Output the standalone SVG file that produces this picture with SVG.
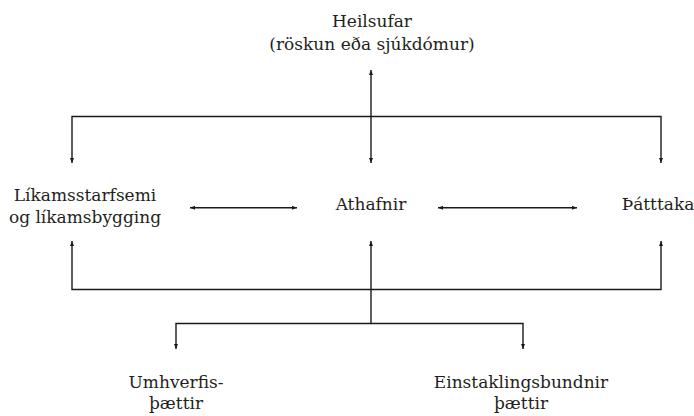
<svg xmlns="http://www.w3.org/2000/svg" width="694" height="416" viewBox="0 0 694 416">
<defs>
<marker id="ah" viewBox="0 0 10 10" refX="10" refY="5" markerWidth="5" markerHeight="5" orient="auto-start-reverse" markerUnits="userSpaceOnUse">
<path d="M0,1 L10,5 L0,9 Z" fill="#1a1a1a"/>
</marker>
<style>
.t{font-size:17px;fill:#231f20;text-anchor:middle}
.c{fill:none;stroke:#1a1a1a;stroke-width:1.4}
</style>
</defs>
<rect width="694" height="416" fill="#fff"/>
<g id="connectors">
<line class="c" x1="371" y1="70" x2="371" y2="163" marker-start="url(#ah)" marker-end="url(#ah)"/>
<polyline class="c" points="72,163 72,116.5 661,116.5 661,163" marker-start="url(#ah)" marker-end="url(#ah)"/>
<line class="c" x1="190" y1="207.7" x2="297" y2="207.7" marker-start="url(#ah)" marker-end="url(#ah)"/>
<line class="c" x1="438" y1="207.7" x2="577" y2="207.7" marker-start="url(#ah)" marker-end="url(#ah)"/>
<polyline class="c" points="72,241 72,289.5 661,289.5 661,241" marker-start="url(#ah)" marker-end="url(#ah)"/>
<line class="c" x1="371" y1="241" x2="371" y2="323.5" marker-start="url(#ah)"/>
<polyline class="c" points="176,349 176,323.5 523,323.5 523,349" marker-start="url(#ah)" marker-end="url(#ah)"/>
</g>
<g font-family="DejaVu Serif, Liberation Serif, serif" class="t">
<g id="heilsufar"><text x="372" y="27">Heilsufar</text><text x="372" y="50">(röskun eða sjúkdómur)</text></g>
<g id="likamsstarfsemi"><text x="85" y="200.5">Líkamsstarfsemi</text><text x="85" y="223">og líkamsbygging</text></g>
<g id="athafnir"><text x="371" y="209.5">Athafnir</text></g>
<g id="thatttaka"><text x="658" y="209.5">Þátttaka</text></g>
<g id="umhverfis"><text x="176" y="388">Umhverfis-</text><text x="176" y="409">þættir</text></g>
<g id="einstaklings"><text x="521" y="388">Einstaklingsbundnir</text><text x="521" y="409">þættir</text></g>
</g>
</svg>
